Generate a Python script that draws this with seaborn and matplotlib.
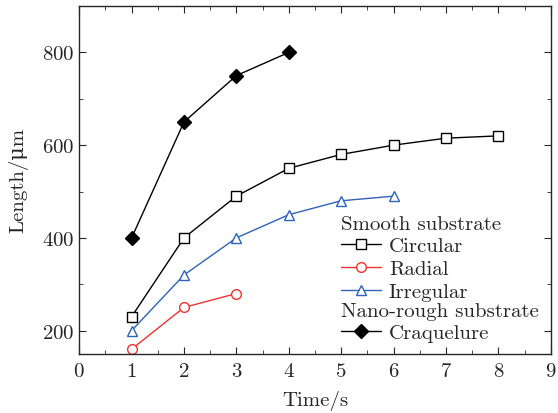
import numpy as np
import pandas as pd
import matplotlib
matplotlib.use("Agg")
import matplotlib.pyplot as plt
import seaborn as sns

# datos
t_circ = [1, 2, 3, 4, 5, 6, 7, 8]
len_circ = [230, 400, 490, 550, 580, 600, 615, 620]
t_rad = [1, 2, 3]
len_rad = [160, 250, 280]
t_irr = [1, 2, 3, 4, 5, 6]
len_irr = [200, 320, 400, 450, 480, 490]
t_craq = [1, 2, 3, 4]
len_craq = [400, 650, 750, 800]

sns.set_style("ticks")
plt.rcParams['font.family'] = ['cmr10', 'DejaVu Serif']
plt.rcParams['axes.formatter.use_mathtext'] = True
plt.rcParams['font.size'] = 15

fig, ax = plt.subplots(figsize=(5.58, 4.14), dpi=100)
fig.subplots_adjust(left=0.142, right=0.987, top=0.983, bottom=0.143)

def serie(x, y, color, marker, mfc, label):
    return sns.lineplot(x=x, y=y, ax=ax, color=color, marker=marker, markersize=7,
                        markerfacecolor=mfc, markeredgecolor=color, markeredgewidth=1.0,
                        linewidth=1.0, label=label, legend=False)

serie(t_circ, len_circ, "black", "s", "white", "Circular")
serie(t_rad, len_rad, "#ee3333", "o", "white", "Radial")
serie(t_irr, len_irr, "#2f62b8", "^", "white", "Irregular")
serie(t_craq, len_craq, "black", "D", "black", "Craquelure")

lines = ax.get_lines()

ax.set_xlim(0, 9)
ax.set_ylim(150, 900)
ax.set_xticks(np.arange(0, 10, 1))
ax.set_yticks([200, 400, 600, 800])
ax.set_xticks(np.arange(0.5, 9, 1), minor=True)
ax.set_yticks([300, 500, 700], minor=True)
ax.tick_params(which="both", direction="in", top=True, right=True, labelsize=15)
ax.tick_params(axis="x", which="major", pad=6)
ax.tick_params(which="major", length=5)
ax.tick_params(which="minor", length=3)
for s in ax.spines.values():
    s.set_linewidth(1.0)

ax.set_xlabel("Time/s", fontsize=15, labelpad=7)
ax.set_ylabel("Length/\u03bcm", fontsize=15, labelpad=10)

opts = dict(alignment="left", frameon=False, fontsize=15, title_fontsize=15,
            loc="upper left", handlelength=1.9, handletextpad=0.4,
            labelspacing=0.2, borderpad=0, borderaxespad=0)
leg1 = ax.legend(lines[:3], ["Circular", "Radial", "Irregular"], title="Smooth substrate",
                 bbox_to_anchor=(0.555, 0.40), **opts)
ax.add_artist(leg1)
ax.legend(lines[3:], ["Craquelure"], title="Nano-rough substrate",
          bbox_to_anchor=(0.555, 0.15), **opts)

fig.savefig("out.png", dpi=100)
